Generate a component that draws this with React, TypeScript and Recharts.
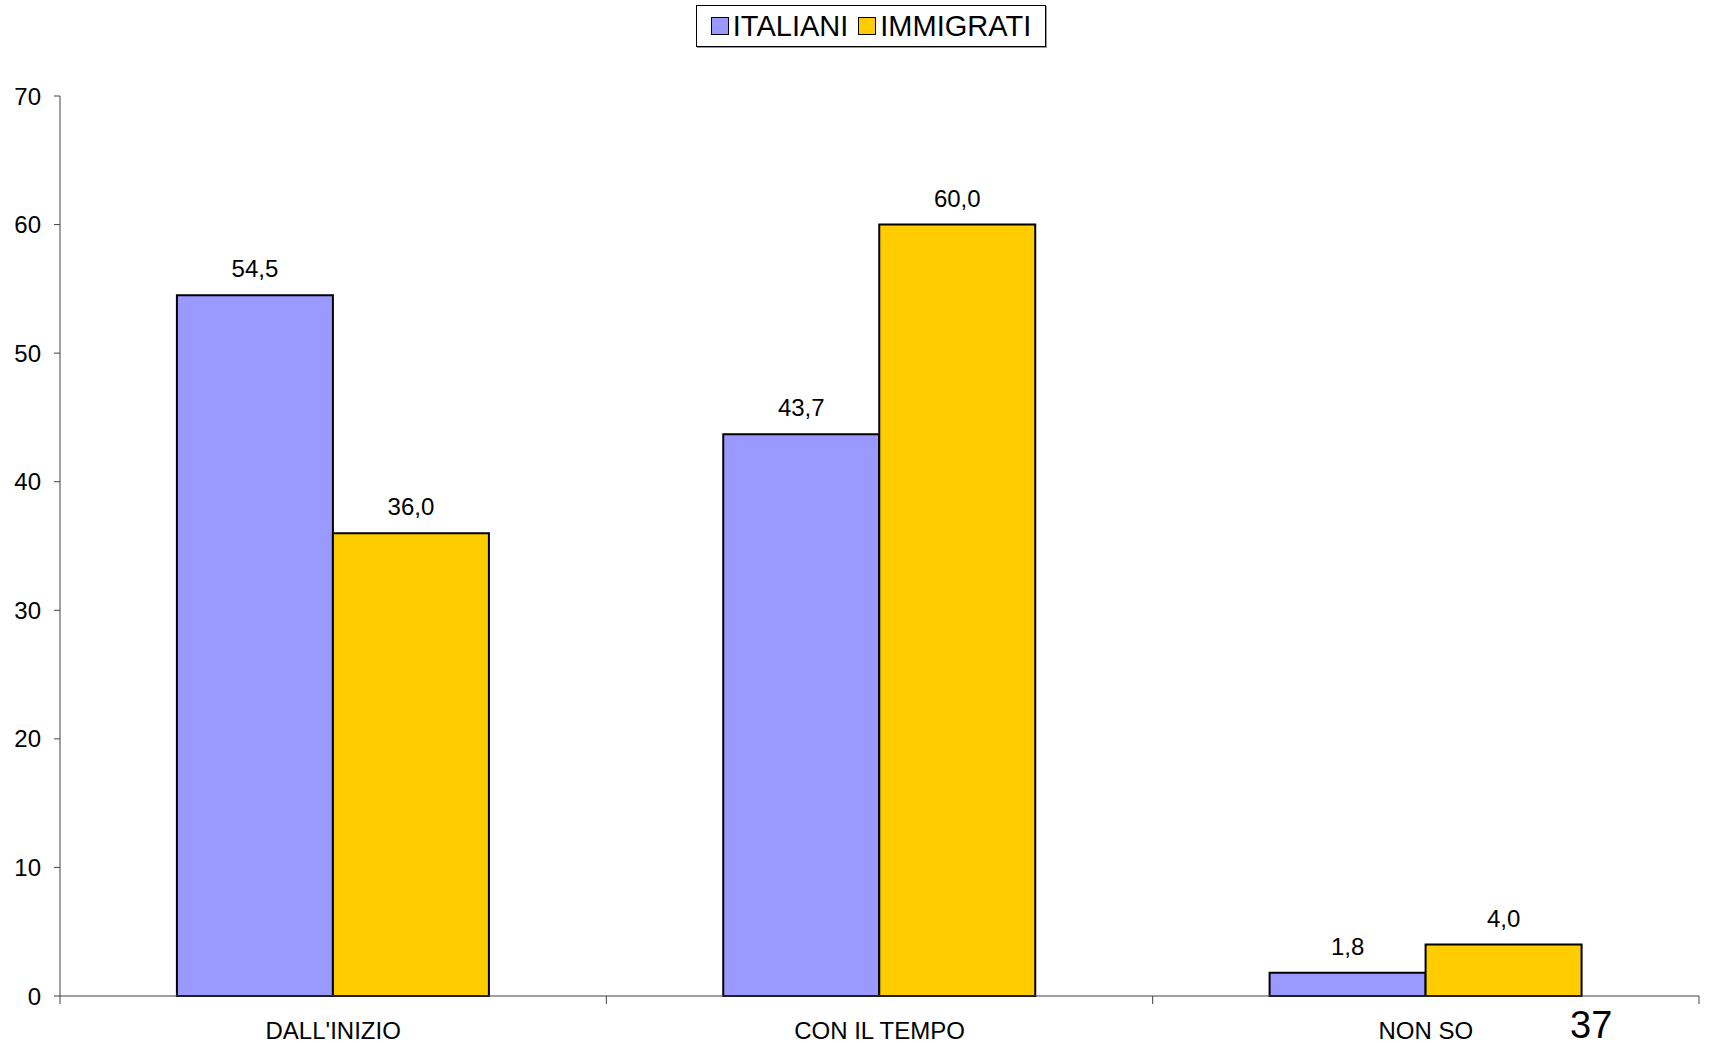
import React from "react";
import { BarChart, Bar, XAxis, YAxis, LabelList } from "recharts";

const categories = ["DALL'INIZIO", "CON IL TEMPO", "NON SO"];
const italiani = [54.5, 43.7, 1.8];
const immigrati = [36.0, 60.0, 4.0];
const yTicks = [0, 10, 20, 30, 40, 50, 60, 70];
const seriesNames = ["ITALIANI", "IMMIGRATI"];
const seriesColors = ["#9999FF", "#FFCC00"];
const pageNumber = "37";

const data = categories.map((c, i) => ({ cat: c, italiani: italiani[i], immigrati: immigrati[i] }));

const FONT = "'Liberation Sans', Arial, sans-serif";
const fmt = (v: any) => Number(v).toFixed(1).replace(".", ",");

const CatTick = (props: any) => {
  const { x, y, payload, index, visibleTicksCount, width } = props;
  const half = payload && payload.offset != null ? payload.offset : width / (visibleTicksCount || 3) / 2;
  const last = index === (visibleTicksCount || 3) - 1;
  return (
    <g>
      <line x1={x - half} x2={x - half} y1={y} y2={y + 8} stroke="#404040" strokeWidth={1} />
      {last && <line x1={x + half} x2={x + half} y1={y} y2={y + 8} stroke="#404040" strokeWidth={1} />}
      <text x={x} y={y + 43} textAnchor="middle" fontSize={24} fill="#000" fontFamily={FONT}>
        {payload.value}
      </text>
    </g>
  );
};

const LegendBox = () => (
  <div
    style={{
      position: "absolute",
      left: 696,
      top: 5,
      width: 350,
      height: 42,
      display: "flex",
      alignItems: "center",
      justifyContent: "center",
      border: "1px solid #000",
      background: "#fff",
      boxSizing: "border-box",
      fontFamily: FONT,
      fontSize: 29,
      color: "#000",
      boxShadow: "1px 1px 0 #999",
    }}
  >
    {seriesNames.map((n, i) => (
      <div key={n} style={{ display: "flex", alignItems: "center", marginRight: i === 0 ? 10 : 0 }}>
        <div
          style={{
            width: 16,
            height: 16,
            background: seriesColors[i],
            border: "1.5px solid #000",
            marginRight: 4,
          }}
        />
        <span>{n}</span>
      </div>
    ))}
  </div>
);

export default function App() {
  return (
    <div style={{ position: "absolute", left: 0, top: 0, width: 1710, height: 1043, background: "#fff" }}>
      <BarChart
        width={1710}
        height={1043}
        data={data}
        margin={{ top: 96, right: 11, left: 0, bottom: 0 }}
        barCategoryGap="21.4%"
        barGap={0}
      >
        <XAxis
          dataKey="cat"
          height={47}
          tickSize={0}
          tickMargin={0}
          tickLine={false}
          axisLine={{ stroke: "#404040", strokeWidth: 1 }}
          tick={<CatTick />}
          interval={0}
        />
        <YAxis
          width={60}
          domain={[0, 70]}
          ticks={yTicks}
          tickSize={6}
          tickMargin={13}
          axisLine={{ stroke: "#404040", strokeWidth: 1 }}
          tickLine={{ stroke: "#404040", strokeWidth: 1 }}
          tick={{ fontSize: 24, fill: "#000", fontFamily: FONT }}
        />
        <Bar dataKey="italiani" name={seriesNames[0]} fill={seriesColors[0]} stroke="#000" strokeWidth={2} isAnimationActive={false}>
          <LabelList dataKey="italiani" position="top" offset={18} formatter={fmt} style={{ fontSize: 24, fill: "#000", fontFamily: FONT }} />
        </Bar>
        <Bar dataKey="immigrati" name={seriesNames[1]} fill={seriesColors[1]} stroke="#000" strokeWidth={2} isAnimationActive={false}>
          <LabelList dataKey="immigrati" position="top" offset={18} formatter={fmt} style={{ fontSize: 24, fill: "#000", fontFamily: FONT }} />
        </Bar>
      </BarChart>
      <LegendBox />
      <div
        style={{
          position: "absolute",
          left: 1570,
          top: 1006,
          fontFamily: FONT,
          fontSize: 38,
          lineHeight: "38px",
          color: "#000",
        }}
      >
        {pageNumber}
      </div>
    </div>
  );
}
